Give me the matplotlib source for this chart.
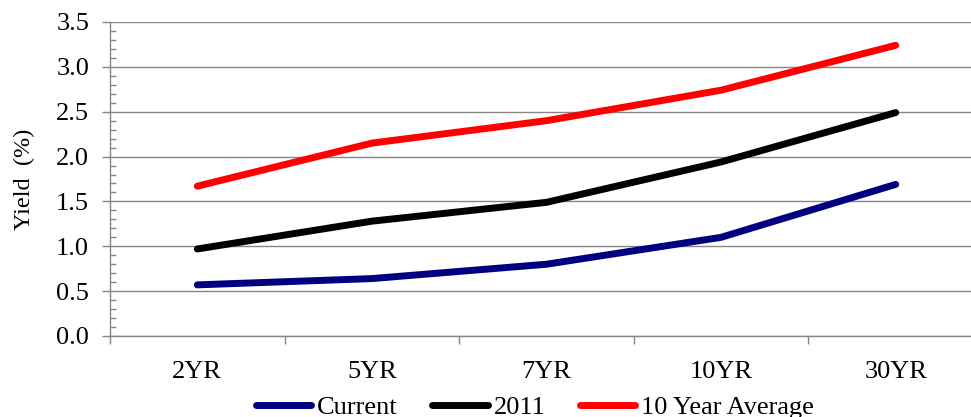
import matplotlib
matplotlib.use("Agg")
import matplotlib.pyplot as plt
from matplotlib.ticker import MultipleLocator, FixedLocator, NullFormatter

plt.rcParams['font.family'] = ['Liberation Serif', 'DejaVu Serif']

categories = ["2YR", "5YR", "7YR", "10YR", "30YR"]
current = [0.57, 0.64, 0.80, 1.10, 1.69]
y2011 = [0.97, 1.28, 1.49, 1.94, 2.49]
avg10 = [1.67, 2.15, 2.40, 2.74, 3.24]

series_names = ["Current", "2011", "10 Year Average"]
series_colors = ["#000080", "#000000", "#FF0000"]

W, H = 971, 417
fig = plt.figure(figsize=(W / 100, H / 100), dpi=100)
ax = fig.add_axes([110 / W, 1 - 336 / H, 873 / W, 314 / H])

x = list(range(len(categories)))
for vals, name, col in zip([current, y2011, avg10], series_names, series_colors):
    ax.plot(x, vals, color=col, lw=5.0, solid_capstyle='round',
            solid_joinstyle='round', label=name, zorder=3)

grid_col = "#868686"
ax.set_ylim(0, 3.5)
ax.set_xlim(-0.5, len(categories) - 0.5)
ax.yaxis.set_major_locator(MultipleLocator(0.5))
ax.yaxis.set_minor_locator(MultipleLocator(0.1))
ax.yaxis.set_major_formatter(matplotlib.ticker.FormatStrFormatter('%.1f'))
ax.grid(axis='y', which='major', color=grid_col, lw=1.0, zorder=1)

# category boundaries carry the tick marks, labels sit at the centres
ax.xaxis.set_major_locator(FixedLocator([i - 0.5 for i in range(len(categories) + 1)]))
ax.xaxis.set_major_formatter(NullFormatter())
ax.xaxis.set_minor_locator(FixedLocator(x))
ax.set_xticks(x, categories, minor=True)

ax.tick_params(axis='y', which='major', direction='out', length=6, width=1,
               color=grid_col, labelsize=19, pad=9)
ax.tick_params(axis='y', which='minor', direction='in', length=4, width=1,
               color=grid_col)
ax.tick_params(axis='x', which='major', direction='out', length=6, width=1,
               color=grid_col)
ax.tick_params(axis='x', which='minor', length=0, labelsize=19, pad=18)

for s in ['top', 'right']:
    ax.spines[s].set_visible(False)
for s in ['left', 'bottom']:
    ax.spines[s].set_color(grid_col)
    ax.spines[s].set_linewidth(1.0)

ax.set_ylabel("Yield  (%)", fontsize=17.5, labelpad=15)

fig.legend(loc='center', bbox_to_anchor=(535 / W, 1 - 407 / H), ncol=3,
           frameon=False, fontsize=19, handlelength=2.1, handletextpad=0.23,
           columnspacing=1.3, borderpad=0, borderaxespad=0)

fig.savefig("out.png", dpi=100)
